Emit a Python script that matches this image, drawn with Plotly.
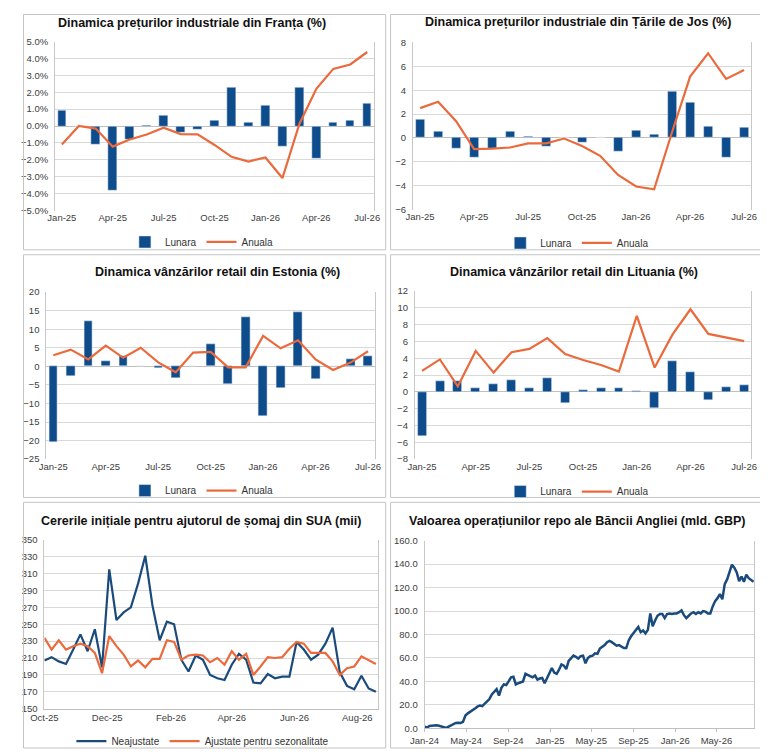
import pandas as pd
import plotly.graph_objects as go

# ---- data -------------------------------------------------------------
MONTHS = ["Jan-25", "Feb-25", "Mar-25", "Apr-25", "May-25", "Jun-25", "Jul-25",
          "Aug-25", "Sep-25", "Oct-25", "Nov-25", "Dec-25", "Jan-26", "Feb-26",
          "Mar-26", "Apr-26", "May-26", "Jun-26", "Jul-26"]
MONTH_TICKS = MONTHS[::3]

FR_LUNARA = [0.9, 0.0, -1.1, -3.8, -0.8, 0.05, 0.6, -0.4, -0.22, 0.35, 2.3, 0.2,
             1.2, -1.2, 2.25, -1.95, 0.2, 0.35, 1.35]
FR_ANUALA = [-1.1, 0.0, -0.15, -1.22, -0.8, -0.5, -0.1, -0.48, -0.49, -1.12, -1.82, -2.1,
             -1.86, -3.08, 0.12, 2.2, 3.38, 3.64, 4.38]

NL_LUNARA = [1.58, 0.5, -0.87, -1.64, -0.87, 0.5, 0.1, -0.74, 0.0, -0.38, 0.0, -1.1,
             0.6, 0.3, 3.9, 3.0, 0.98, -1.6, 0.87]
NL_ANUALA = [2.5, 3.03, 1.4, -0.93, -0.9, -0.8, -0.46, -0.46, -0.05, -0.68, -1.5, -3.1,
             -4.07, -4.3, 0.5, 5.14, 7.1, 4.95, 5.7]

EE_LUNARA = [-20.4, -2.6, 12.1, 1.5, 2.7, 0.0, -0.35, -3.2, 0.0, 5.9, -4.7, 13.3,
             -13.5, -5.8, 14.65, -3.4, 0.0, 1.9, 2.8]
EE_ANUALA = [3.0, 4.5, 1.85, 5.56, 2.3, 5.0, 1.06, -1.6, 3.7, 3.9, -0.26, -0.26,
             8.2, 4.85, 7.0, 1.85, -1.0, 1.0, 4.06]

LT_LUNARA = [-5.27, 1.29, 1.25, 0.4, 0.94, 1.45, 0.5, 1.64, -1.33, 0.23, 0.5, 0.43,
             0.08, -1.95, 3.7, 2.4, -1.0, 0.6, 0.8]
LT_ANUALA = [2.5, 3.87, 0.66, 4.88, 2.3, 4.73, 5.12, 6.4, 4.5, 3.8, 3.2, 2.42,
             9.06, 2.9, 6.84, 9.84, 6.9, 6.45, 6.05]

US_DATES = pd.date_range("2025-10-01", periods=47, freq="7D")
US_NEAJUSTATE = [207, 211, 206, 203, 220, 238, 218, 244, 199, 315,
                 255, 264, 270, 298, 331, 272, 231, 253, 250, 208,
                 194, 213, 208, 190, 186, 184, 202, 215, 208, 181,
                 180, 191, 186, 188, 188, 229, 220, 208, 214, 227,
                 246, 193, 177, 173, 189, 174, 170]
US_AJUSTATE = [234, 220, 231, 220, 224, 227, 224, 216, 192, 236,
               224, 214, 200, 207, 199, 209, 209, 231, 229, 208,
               213, 214, 213, 205, 210, 202, 218, 208, 215, 190,
               200, 211, 210, 211, 221, 229, 227, 216, 216, 216,
               206, 190, 198, 200, 212, 207, 203]
US_TICKS = ["2025-10-01", "2025-12-01", "2026-02-01", "2026-04-01", "2026-06-01", "2026-08-01"]

BOE_DATES = pd.date_range("2024-01-01", periods=138, freq="7D")
BOE_REPO = [1.4, 0.6, 2.0, 2.2, 2.5, 2.6, 2.2, 1.6, 0.6, 0.4,
            1.5, 2.6, 3.8, 4.6, 4.8, 4.6, 5.5, 11.0, 12.8, 14.0,
            15.5, 17.0, 18.5, 19.5, 19.0, 21.0, 23.0, 25.0, 29.0, 31.0,
            33.5, 28.0, 34.5, 37.5, 37.0, 40.0, 43.5, 44.0, 37.5, 38.5,
            39.0, 40.0, 46.5, 45.5, 44.5, 43.5, 45.0, 41.5, 42.5, 43.0,
            38.5, 43.0, 47.0, 51.5, 47.5, 46.5, 50.0, 54.5, 53.5, 50.5,
            57.5, 59.5, 62.0, 61.0, 59.5, 61.5, 62.0, 55.5, 60.0, 61.5,
            62.0, 64.0, 63.5, 68.0, 69.5, 71.0, 73.5, 74.5, 73.5, 72.0,
            70.5, 71.0, 70.0, 68.5, 68.5, 75.0, 78.5, 81.0, 83.5, 86.5,
            82.0, 83.5, 81.0, 84.0, 98.0, 87.0, 92.0, 96.0, 97.5, 97.5,
            94.0, 97.5, 98.0, 97.5, 98.0, 98.0, 99.0, 100.5, 96.5, 94.0,
            96.0, 98.0, 99.0, 97.5, 99.0, 98.0, 100.0, 99.5, 98.0, 98.0,
            104.0, 108.5, 111.0, 114.5, 110.0, 123.0, 127.0, 133.5, 139.5, 137.0,
            133.0, 125.5, 129.5, 125.0, 131.0, 128.0, 126.5, 125.0]
BOE_TICKS = ["2024-01-01", "2024-05-01", "2024-09-01", "2025-01-01", "2025-05-01",
             "2025-09-01", "2026-01-01", "2026-05-01"]

# ---- styling ----------------------------------------------------------
# the page body keeps its default 8px margin, so the figure is sized to fit
# inside the 768x756 window and all positions below are in window pixels
OFF = 8
W, H = 768 - OFF, 756 - OFF
BLUE = "#0E4C8C"
NAVY = "#1B4A7C"
ORANGE = "#EA6A3C"
GRID = "#d9d9d9"
TICK_FONT = dict(family="Liberation Sans, Arial, sans-serif", size=9.5, color="#404040")
TITLE_FONT = dict(family="Liberation Sans, Arial, sans-serif", size=12.5, color="#111111")


def px_x(v):
    return (v - OFF) / W


def px_y(v):
    return 1 - (v - OFF) / H


# plot areas in window pixels: left, right, top, bottom
AREAS = [
    (41, 369, 36, 208),
    (409, 757, 37, 207),
    (32, 370, 291, 461),
    (411, 757, 290, 461),
    (30, 373, 543, 715),
    (421, 760, 544, 735),
]
TITLES = [
    ("Dinamica prețurilor industriale din Franța (%)", 182, 17),
    ("Dinamica prețurilor industriale din Țările de Jos (%)", 579, 16),
    ("Dinamica vânzărilor retail din Estonia (%)", 208, 271),
    ("Dinamica vânzărilor retail din Lituania (%)", 575, 271),
    ("Cererile inițiale pentru ajutorul de șomaj din SUA (mii)", 191, 524),
    ("Valoarea operațiunilor repo ale Băncii Angliei (mld. GBP)", 578, 524),
]
LEGENDS = [(192, 240), (578, 241), (192, 493), (578, 494), (193, 748)]
BOXES = [(1, 381, 1, 248), (386, 767, 1, 248), (1, 381, 253, 500),
         (386, 767, 253, 500), (1, 381, 505, 755), (386, 767, 505, 755)]

fig = go.Figure()

bar_panels = [
    (FR_LUNARA, FR_ANUALA),
    (NL_LUNARA, NL_ANUALA),
    (EE_LUNARA, EE_ANUALA),
    (LT_LUNARA, LT_ANUALA),
]
for i, (lunara, anuala) in enumerate(bar_panels):
    n = i + 1
    ax = "" if n == 1 else str(n)
    leg = "legend" if n == 1 else f"legend{n}"
    fig.add_trace(go.Bar(x=MONTHS, y=lunara, name="Lunara", marker_color=BLUE,
                         width=0.5, xaxis=f"x{ax}", yaxis=f"y{ax}", legend=leg))
    fig.add_trace(go.Scatter(x=MONTHS, y=anuala, name="Anuala", mode="lines",
                             line=dict(color=ORANGE, width=2.2),
                             xaxis=f"x{ax}", yaxis=f"y{ax}", legend=leg))

fig.add_trace(go.Scatter(x=US_DATES, y=US_NEAJUSTATE, name="Neajustate", mode="lines",
                         line=dict(color=NAVY, width=2.2), xaxis="x5", yaxis="y5",
                         legend="legend5"))
fig.add_trace(go.Scatter(x=US_DATES, y=US_AJUSTATE, name="Ajustate pentru sezonalitate",
                         mode="lines", line=dict(color=ORANGE, width=2.2),
                         xaxis="x5", yaxis="y5", legend="legend5"))
fig.add_trace(go.Scatter(x=BOE_DATES, y=BOE_REPO, name="Repo", mode="lines",
                         line=dict(color=NAVY, width=2.5), xaxis="x6", yaxis="y6",
                         showlegend=False))

y_specs = [
    dict(range=[-5, 5], tick0=0, dtick=1, tickformat=".1f", ticksuffix="%"),
    dict(range=[-6, 8], tick0=0, dtick=2),
    dict(range=[-25, 20], tick0=0, dtick=5),
    dict(range=[-8, 12], tick0=0, dtick=2),
    dict(range=[150, 350], tick0=150, dtick=20),
    dict(range=[0, 160], tick0=0, dtick=20, tickformat=".1f"),
]

layout = dict(
    width=W, height=H,
    margin=dict(l=0, r=0, t=0, b=0),
    paper_bgcolor="white", plot_bgcolor="white",
    bargap=0, showlegend=True,
    annotations=[], shapes=[],
)

for i, (l, r, t, b) in enumerate(AREAS):
    n = i + 1
    ax = "" if n == 1 else str(n)
    xa = dict(domain=[px_x(l), px_x(r)], anchor=f"y{ax}", tickfont=TICK_FONT,
              showgrid=False, ticks="", showline=False, fixedrange=True)
    if n <= 4:
        xa.update(type="category", range=[-0.4, 18.4], tickvals=MONTH_TICKS, tickangle=0)
    elif n == 5:
        xa.update(type="date", range=["2025-10-01", "2026-08-21"], tickvals=US_TICKS,
                  tickformat="%b-%y", showline=True, linecolor="#bfbfbf")
    else:
        xa.update(type="date", range=["2024-01-01", "2026-08-19"], tickvals=BOE_TICKS,
                  tickformat="%b-%y", showline=True, linecolor="#bfbfbf",
                  ticks="outside", ticklen=3, tickcolor="#bfbfbf")
    ya = dict(domain=[px_y(b), px_y(t)], anchor=f"x{ax}", tickfont=TICK_FONT,
              showgrid=True, gridcolor=GRID, gridwidth=1, showline=True,
              linecolor="#c8c8c8", mirror=True, zeroline=(n <= 4),
              zerolinecolor="#bfbfbf", zerolinewidth=1, ticks="outside", ticklen=4,
              tickcolor="rgba(0,0,0,0)", fixedrange=True)
    ya.update(y_specs[i])
    layout[f"xaxis{ax}"] = xa
    layout[f"yaxis{ax}"] = ya

for text, x, y in TITLES:
    layout["annotations"].append(dict(
        text=f"<b>{text}</b>", x=px_x(x), y=px_y(y), xref="paper", yref="paper",
        xanchor="center", yanchor="middle", showarrow=False, font=TITLE_FONT))

for i, (x, y) in enumerate(LEGENDS):
    key = "legend" if i == 0 else f"legend{i + 1}"
    layout[key] = dict(orientation="h", x=px_x(x), y=px_y(y), xanchor="center",
                       yanchor="middle", font=dict(family="Liberation Sans, Arial, sans-serif",
                                                   size=10, color="#333333"),
                       bgcolor="rgba(0,0,0,0)", itemwidth=30, tracegroupgap=0)

for l, r, t, b in BOXES:
    layout["shapes"].append(dict(type="rect", xref="paper", yref="paper",
                                 x0=px_x(max(l, OFF + 0.5)), x1=px_x(r),
                                 y0=px_y(b), y1=px_y(max(t, OFF + 0.5)),
                                 line=dict(color="#c4c4c4", width=1)))

fig.update_layout(**layout)
fig.write_html("out.html")
